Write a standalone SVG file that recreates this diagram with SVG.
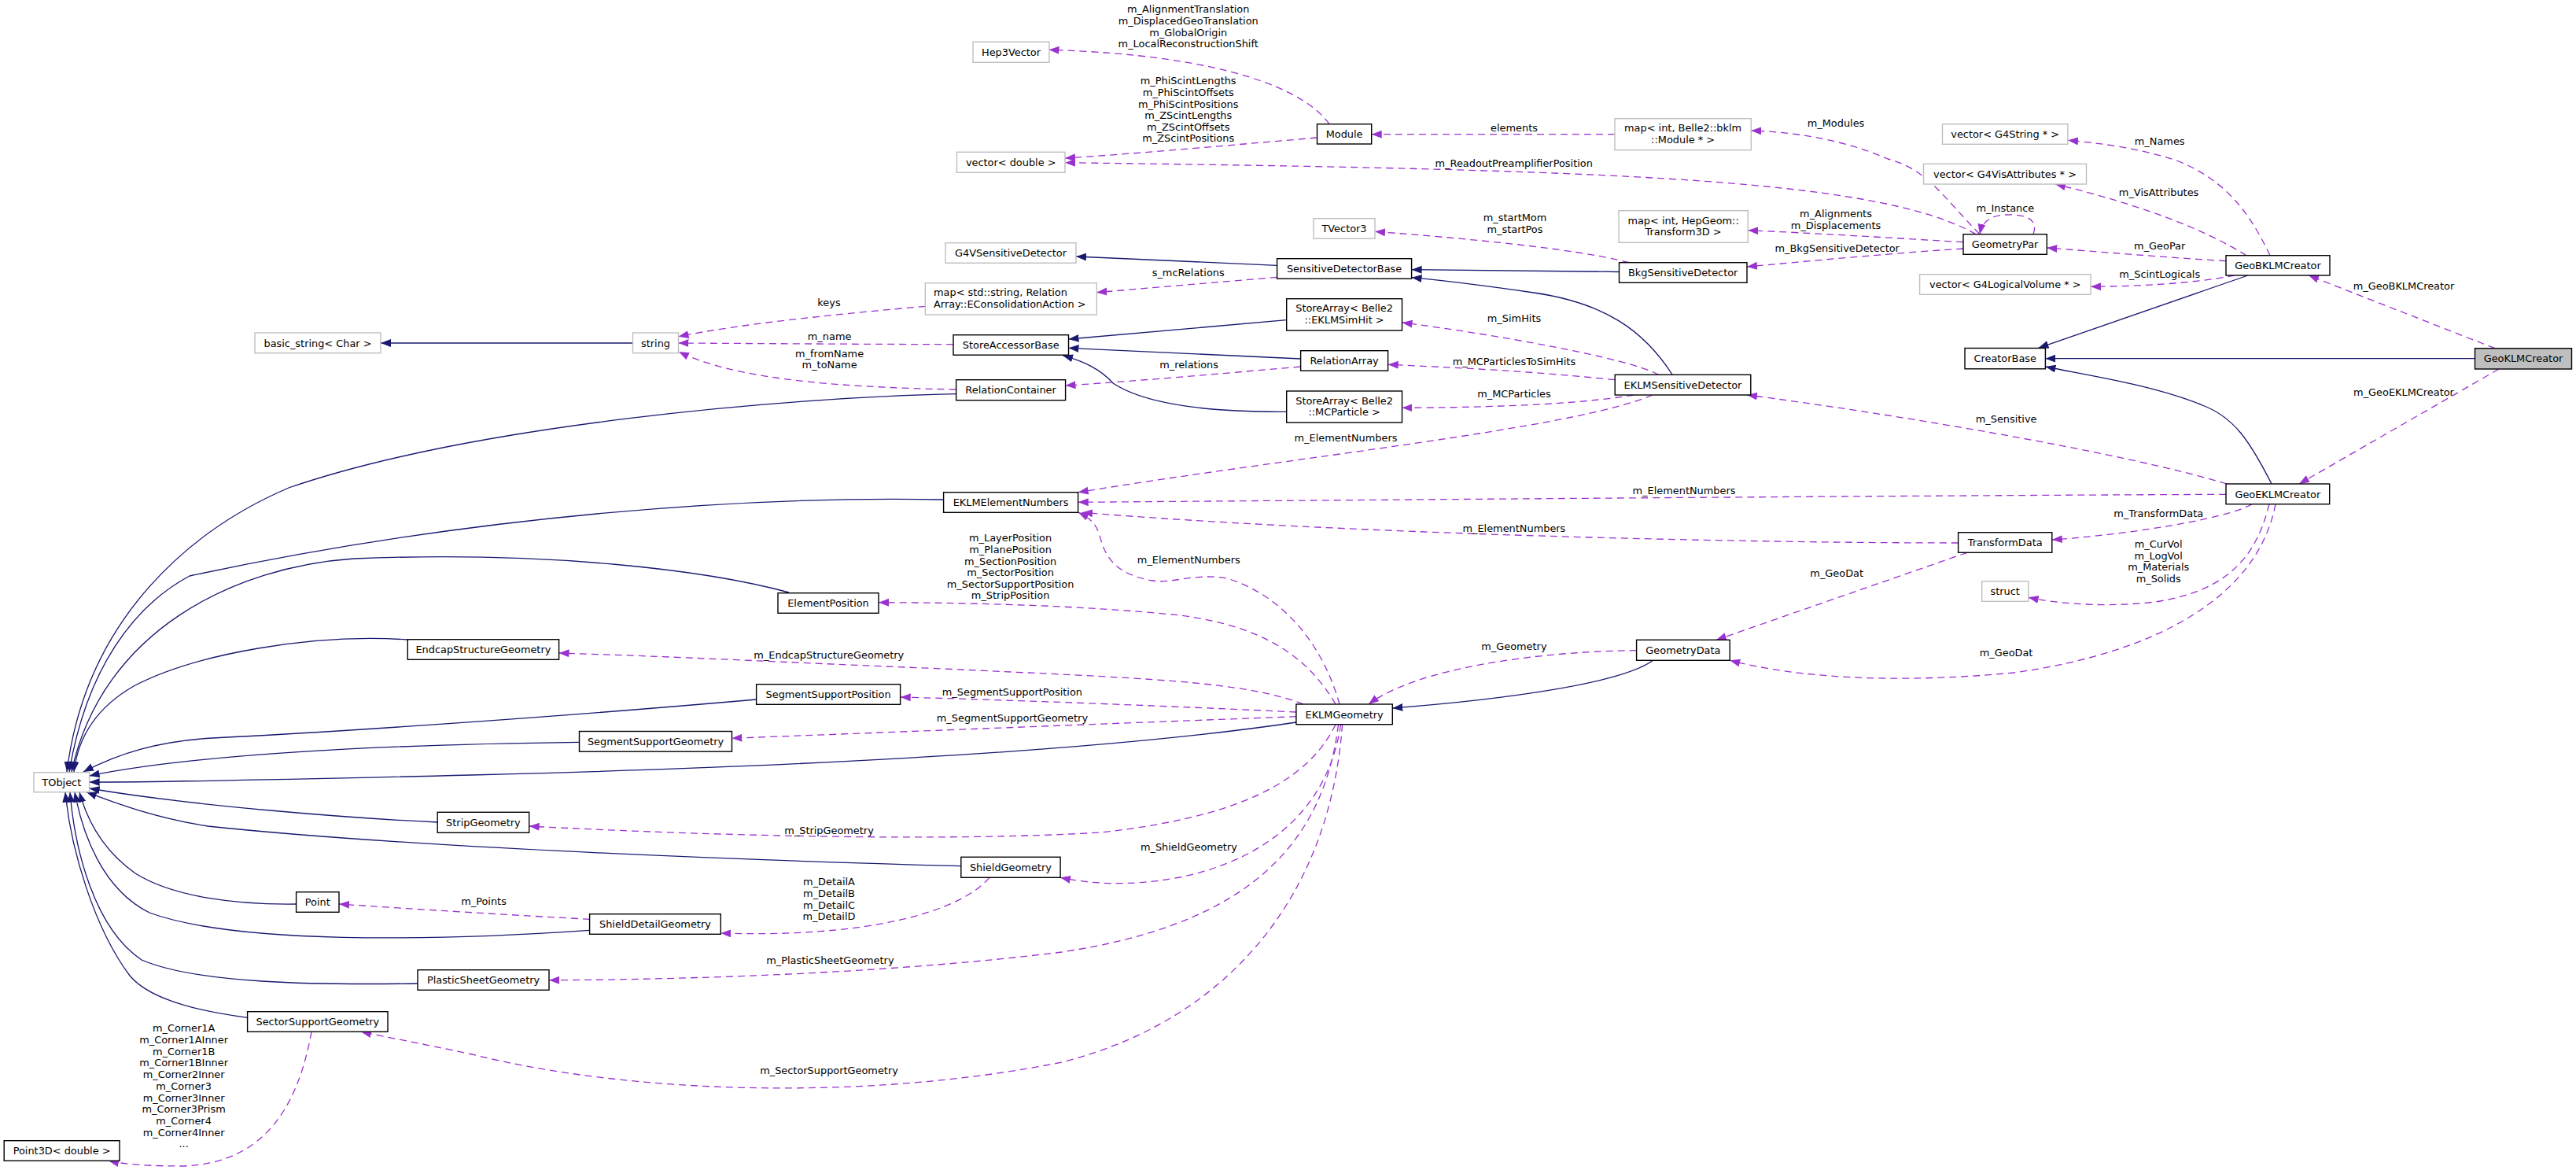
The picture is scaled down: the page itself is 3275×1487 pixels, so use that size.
<svg xmlns="http://www.w3.org/2000/svg" width="3275" height="1487" viewBox="0 0 3275 1487">
<defs>
<style>
text{font-family:"DejaVu Sans","Liberation Sans",sans-serif;font-size:12.9px;fill:#000}
.nd text,.ex text{text-anchor:middle}
.nd rect{fill:#fff;stroke:#000;stroke-width:1.4}
.ex rect{fill:#fff;stroke:#bfbfbf;stroke-width:1.4}
.cur rect{fill:#bfbfbf;stroke:#000;stroke-width:1.4}
.cur text{text-anchor:middle}
.inh{fill:none;stroke:#191970;stroke-width:1.3;marker-end:url(#ai)}
.use{fill:none;stroke:#9a32cd;stroke-width:1.3;stroke-dasharray:9,6;marker-end:url(#au)}
.lb{text-anchor:middle}
</style>
<marker id="ai" markerUnits="userSpaceOnUse" markerWidth="14" markerHeight="11" refX="13" refY="5" orient="auto"><path d="M0,0 L13,5 L0,10 z" fill="#191970"/></marker>
<marker id="au" markerUnits="userSpaceOnUse" markerWidth="14" markerHeight="11" refX="13" refY="5" orient="auto"><path d="M0,0 L13,5 L0,10 z" fill="#9a32cd"/></marker>
</defs>
<rect x="0" y="0" width="3275" height="1487" fill="#fff"/>
<g id="connectors">
<path class="inh" d="M804.5,436 L484,436"/>
<path class="inh" d="M1623.6,337.3 L1368,326"/>
<path class="inh" d="M2058.5,345.5 C1950,344 1850,343 1794.6,342.7"/>
<path class="inh" d="M2126,476 C2090,420 2040,385 1950,372 C1880,362 1830,356 1794.6,352.7"/>
<path class="inh" d="M1635.7,406.7 L1358.5,431"/>
<path class="inh" d="M1653.6,456 L1358.5,442.3"/>
<path class="inh" d="M1635.7,523.3 C1520,524 1450,510 1415,487 C1400,470 1380,460 1351,451.7"/>
<path class="inh" d="M1215.6,500.7 C1000,505 600,540 367,620 C250,670 110,780 85,981"/>
<path class="inh" d="M1199.6,635 C950,630 600,655 241,732 C170,770 110,850 88,981"/>
<path class="inh" d="M1003,753 C900,725 700,700 450,710 C300,720 130,800 91,981"/>
<path class="inh" d="M518.3,813 C400,805 250,830 170,872 C130,895 100,930 94,981"/>
<path class="inh" d="M961.6,889 C700,912 400,932 270,938 C200,942 150,958 106,981"/>
<path class="inh" d="M736.5,943.3 C500,946 250,958 113.6,986"/>
<path class="inh" d="M1648,918 C1400,955 1000,975 600,985 C400,990 200,994 113.6,994"/>
<path class="inh" d="M556.2,1045 C450,1040 250,1025 113.6,1002"/>
<path class="inh" d="M1221.8,1100.7 C900,1092 500,1075 264,1050 C200,1040 150,1022 110,1006.7"/>
<path class="inh" d="M376.6,1149 C300,1150 220,1140 172,1110 C130,1080 110,1040 101,1006.7"/>
<path class="inh" d="M749.6,1182.3 C550,1196 300,1200 190,1160 C130,1130 105,1060 95,1006.7"/>
<path class="inh" d="M531,1250 C400,1252 250,1250 180,1220 C120,1180 95,1080 89,1006.7"/>
<path class="inh" d="M314.6,1293.3 C250,1285 190,1270 165,1240 C120,1180 90,1080 83,1006.7"/>
<path class="inh" d="M2858,350 L2591.5,442.3"/>
<path class="inh" d="M3146.5,455.7 L2600.4,455.7"/>
<path class="inh" d="M2888,615 C2860,560 2840,530 2800,515 C2740,490 2660,478 2600.4,466"/>
<path class="inh" d="M2101.6,839.3 C2060,870 1900,890 1770.3,900"/>

<path class="use" d="M1690,157.7 C1660,115 1560,70 1333.5,63.3"/>
<path class="use" d="M1674.5,175 C1580,183 1450,195 1354,201"/>
<path class="use" d="M2512,297.7 C2450,262 2330,240 2118,227 S1600,210 1354,206.7"/>
<path class="use" d="M2053,170.7 L1743.7,170.7"/>
<path class="use" d="M2517,297.7 C2470,250 2450,215 2400,202 C2350,180 2290,168 2226.3,166"/>
<path class="use" d="M2071,333.7 C2000,315 1850,302 1748,294.3"/>
<path class="use" d="M2496,307.7 C2400,302 2300,296 2222.3,292.7"/>
<path class="use" d="M2496,316 C2400,322 2300,332 2221,339"/>
<path class="use" d="M2585,297.7 C2592,278 2575,272 2550,273 C2530,274 2520,282 2517,297.7"/>
<path class="use" d="M2830,331.7 C2750,327 2670,320 2602.3,315"/>
<path class="use" d="M2886,324.7 C2860,270 2830,230 2770,205 C2720,188 2670,182 2629,178.3"/>
<path class="use" d="M2856,324.7 C2800,290 2720,260 2613,234"/>
<path class="use" d="M2841,350 C2790,360 2720,364 2658,364.3"/>
<path class="use" d="M3172,442.7 L2935,350"/>
<path class="use" d="M3177,469 L2923,615"/>
<path class="use" d="M1623.6,352.3 L1394.2,371.7"/>
<path class="use" d="M1176.3,389.3 C1080,398 950,410 862.5,427.7"/>
<path class="use" d="M1212,437.7 C1100,437.5 950,436.5 862.5,436"/>
<path class="use" d="M1215.6,495 C1050,492 930,480 863,447"/>
<path class="use" d="M1653.6,466 C1550,475 1450,484 1354.5,490"/>
<path class="use" d="M2108.7,476.3 C2070,455 1900,425 1782.5,410"/>
<path class="use" d="M2053.2,482.7 C1950,472 1850,467 1764.7,463.3"/>
<path class="use" d="M2077,502 C2000,515 1880,518 1782.5,518.3"/>
<path class="use" d="M2101,502 C2000,545 1650,580 1370.7,625.7"/>
<path class="use" d="M2831,615 C2700,575 2400,525 2221,502"/>
<path class="use" d="M2830,628.3 C2400,630 1800,635 1370.7,638.3"/>
<path class="use" d="M2489.6,690 C2200,690 1700,678 1376,651.3"/>
<path class="use" d="M2863,640.7 C2830,660 2700,680 2608.8,686"/>
<path class="use" d="M2885,640.7 C2870,700 2840,750 2740,765 C2680,772 2620,768 2578.7,759.3"/>
<path class="use" d="M2501,702.3 L2182,813.3"/>
<path class="use" d="M2893,640.7 C2870,760 2740,830 2560,855 C2400,870 2280,860 2199.2,839.3"/>
<path class="use" d="M2080.6,826.7 C1950,828 1800,850 1740,895"/>
<path class="use" d="M1703,895 C1685,830 1640,760 1560,735 C1520,728 1490,742 1465,738 C1420,730 1405,710 1398,680 C1393,665 1385,658 1371,651.3"/>
<path class="use" d="M1698,895 C1660,830 1600,795 1500,782 C1380,770 1250,766 1117,765.7"/>
<path class="use" d="M1657,895 C1580,865 1450,862 1200,850 C1000,842 850,834 710.6,830"/>
<path class="use" d="M1648,905 C1500,898 1300,890 1144.7,886"/>
<path class="use" d="M1648,910.7 C1400,920 1150,930 930.4,938.3"/>
<path class="use" d="M1698,920.7 C1660,1000 1560,1040 1400,1058 C1200,1070 900,1062 672.7,1050"/>
<path class="use" d="M1704.6,920.7 C1690,1020 1620,1090 1500,1115 C1430,1128 1380,1122 1348,1115.3"/>
<path class="use" d="M1701.5,920.7 C1680,1100 1550,1180 1350,1210 C1150,1235 900,1245 698,1245.7"/>
<path class="use" d="M1706.6,920.7 C1690,1150 1550,1300 1350,1350 C1100,1400 800,1390 600,1340 C530,1325 490,1318 459,1311.3"/>
<path class="use" d="M1258,1115.3 C1220,1160 1100,1192 916.3,1186"/>
<path class="use" d="M749.6,1168.3 C650,1163 520,1155 431,1149"/>
<path class="use" d="M396,1311.3 C380,1400 340,1480 230,1482 C190,1482 160,1480 138,1475.3"/>

<g id="labels">
<text class="lb" x="1510.7" y="16.3">m_AlignmentTranslation</text>
<text class="lb" x="1510.7" y="30.9">m_DisplacedGeoTranslation</text>
<text class="lb" x="1510.7" y="45.5">m_GlobalOrigin</text>
<text class="lb" x="1510.7" y="60.1">m_LocalReconstructionShift</text>
<text class="lb" x="1510.7" y="107.3">m_PhiScintLengths</text>
<text class="lb" x="1510.7" y="121.9">m_PhiScintOffsets</text>
<text class="lb" x="1510.7" y="136.5">m_PhiScintPositions</text>
<text class="lb" x="1510.7" y="151.1">m_ZScintLengths</text>
<text class="lb" x="1510.7" y="165.7">m_ZScintOffsets</text>
<text class="lb" x="1510.7" y="180.3">m_ZScintPositions</text>
<text class="lb" x="1924.7" y="212.3">m_ReadoutPreamplifierPosition</text>
<text class="lb" x="1925" y="167.3">elements</text>
<text class="lb" x="2334" y="161.3">m_Modules</text>
<text class="lb" x="2745.7" y="183.6">m_Names</text>
<text class="lb" x="2744.6" y="249.3">m_VisAttributes</text>
<text class="lb" x="2549.4" y="269.3">m_Instance</text>
<text class="lb" x="1926" y="281.3">m_startMom</text>
<text class="lb" x="1926" y="295.9">m_startPos</text>
<text class="lb" x="2334" y="276.3">m_Alignments</text>
<text class="lb" x="2334" y="290.9">m_Displacements</text>
<text class="lb" x="2335.7" y="319.6">m_BkgSensitiveDetector</text>
<text class="lb" x="2745.7" y="317.3">m_GeoPar</text>
<text class="lb" x="2745.7" y="353.3">m_ScintLogicals</text>
<text class="lb" x="3056" y="368.3">m_GeoBKLMCreator</text>
<text class="lb" x="3056" y="503.3">m_GeoEKLMCreator</text>
<text class="lb" x="1510.7" y="351.3">s_mcRelations</text>
<text class="lb" x="1054" y="388.9">keys</text>
<text class="lb" x="1054.6" y="432.3">m_name</text>
<text class="lb" x="1054.6" y="453.6">m_fromName</text>
<text class="lb" x="1054.6" y="468.2">m_toName</text>
<text class="lb" x="1511.6" y="467.9">m_relations</text>
<text class="lb" x="1925" y="408.6">m_SimHits</text>
<text class="lb" x="1924.9" y="463.6">m_MCParticlesToSimHits</text>
<text class="lb" x="1924.9" y="505.3">m_MCParticles</text>
<text class="lb" x="1711" y="561.3">m_ElementNumbers</text>
<text class="lb" x="2550.6" y="537.3">m_Sensitive</text>
<text class="lb" x="2141" y="628.3">m_ElementNumbers</text>
<text class="lb" x="2744.2" y="657.3">m_TransformData</text>
<text class="lb" x="1924.9" y="676.3">m_ElementNumbers</text>
<text class="lb" x="2744.2" y="695.9">m_CurVol</text>
<text class="lb" x="2744.2" y="710.5">m_LogVol</text>
<text class="lb" x="2744.2" y="725.1">m_Materials</text>
<text class="lb" x="2744.2" y="739.7">m_Solids</text>
<text class="lb" x="2335.2" y="733.3">m_GeoDat</text>
<text class="lb" x="1924.9" y="825.6">m_Geometry</text>
<text class="lb" x="2550.6" y="833.6">m_GeoDat</text>
<text class="lb" x="1284.6" y="688.3">m_LayerPosition</text>
<text class="lb" x="1284.6" y="702.9">m_PlanePosition</text>
<text class="lb" x="1284.6" y="717.5">m_SectionPosition</text>
<text class="lb" x="1284.6" y="732.1">m_SectorPosition</text>
<text class="lb" x="1284.6" y="746.7">m_SectorSupportPosition</text>
<text class="lb" x="1284.6" y="761.3">m_StripPosition</text>
<text class="lb" x="1511.3" y="716.3">m_ElementNumbers</text>
<text class="lb" x="1053.8" y="837.3">m_EndcapStructureGeometry</text>
<text class="lb" x="1286.9" y="883.6">m_SegmentSupportPosition</text>
<text class="lb" x="1286.9" y="916.6">m_SegmentSupportGeometry</text>
<text class="lb" x="1054" y="1059.6">m_StripGeometry</text>
<text class="lb" x="1511.4" y="1081.3">m_ShieldGeometry</text>
<text class="lb" x="1054" y="1125.3">m_DetailA</text>
<text class="lb" x="1054" y="1139.9">m_DetailB</text>
<text class="lb" x="1054" y="1154.5">m_DetailC</text>
<text class="lb" x="1054" y="1169.1">m_DetailD</text>
<text class="lb" x="1055.4" y="1224.6">m_PlasticSheetGeometry</text>
<text class="lb" x="1054" y="1364.6">m_SectorSupportGeometry</text>
<text class="lb" x="615" y="1149.6">m_Points</text>
<text class="lb" x="233.6" y="1311.3">m_Corner1A</text>
<text class="lb" x="233.6" y="1326">m_Corner1AInner</text>
<text class="lb" x="233.6" y="1340.7">m_Corner1B</text>
<text class="lb" x="233.6" y="1355.4">m_Corner1BInner</text>
<text class="lb" x="233.6" y="1370.1">m_Corner2Inner</text>
<text class="lb" x="233.6" y="1384.8">m_Corner3</text>
<text class="lb" x="233.6" y="1399.5">m_Corner3Inner</text>
<text class="lb" x="233.6" y="1414.2">m_Corner3Prism</text>
<text class="lb" x="233.6" y="1428.9">m_Corner4</text>
<text class="lb" x="233.6" y="1443.6">m_Corner4Inner</text>
<text class="lb" x="233.6" y="1458.3">...</text>
</g>
</g>

<g id="n-Hep3Vector" class="ex"><rect x="1237" y="53.3" width="97" height="26"/><text x="1285.5" y="70.9">Hep3Vector</text></g>
<g id="n-vector-double" class="ex"><rect x="1216.5" y="193.3" width="137.5" height="26"/><text x="1285.2" y="210.9">vector&lt; double &gt;</text></g>
<g id="n-Module" class="nd"><rect x="1674.5" y="157.7" width="69.2" height="25.3"/><text x="1709.1" y="175">Module</text></g>
<g id="n-map-bklm" class="ex"><rect x="2053" y="150.7" width="173.3" height="40"/><text x="2139.6" y="167.3">map&lt; int, Belle2::bklm</text><text x="2139.6" y="181.9">::Module * &gt;</text></g>
<g id="n-TVector3" class="ex"><rect x="1670" y="277.7" width="78" height="25.6"/><text x="1709" y="295.1">TVector3</text></g>
<g id="n-G4VSensitiveDetector" class="ex"><rect x="1202" y="308.7" width="166" height="25.6"/><text x="1285" y="326.1">G4VSensitiveDetector</text></g>
<g id="n-SensitiveDetectorBase" class="nd"><rect x="1623.6" y="328.7" width="171" height="25.5"/><text x="1709.1" y="346">SensitiveDetectorBase</text></g>
<g id="n-map-string" class="ex"><rect x="1176.3" y="359.7" width="218" height="40.3"/><text x="1187" y="376.3" style="text-anchor:start">map&lt; std::string, Relation</text><text x="1187" y="391.3" style="text-anchor:start">Array::EConsolidationAction &gt;</text></g>
<g id="n-StoreArray-EKLMSimHit" class="nd"><rect x="1635.7" y="379.7" width="146.8" height="40.3"/><text x="1709.1" y="396.3">StoreArray&lt; Belle2</text><text x="1709.1" y="410.9">::EKLMSimHit &gt;</text></g>
<g id="n-StoreAccessorBase" class="nd"><rect x="1212" y="425.7" width="146.5" height="25.5"/><text x="1285.2" y="443">StoreAccessorBase</text></g>
<g id="n-RelationArray" class="nd"><rect x="1653.6" y="445.7" width="111" height="25.5"/><text x="1709.1" y="463">RelationArray</text></g>
<g id="n-RelationContainer" class="nd"><rect x="1215.6" y="482.7" width="139" height="26"/><text x="1285.1" y="500.3">RelationContainer</text></g>
<g id="n-StoreArray-MCParticle" class="nd"><rect x="1635.7" y="497" width="146.8" height="40"/><text x="1709.1" y="513.6">StoreArray&lt; Belle2</text><text x="1709.1" y="528.2">::MCParticle &gt;</text></g>
<g id="n-map-HepGeom" class="ex"><rect x="2058" y="267.7" width="164.3" height="40.6"/><text x="2140.1" y="284.5">map&lt; int, HepGeom::</text><text x="2140.1" y="299.1">Transform3D &gt;</text></g>
<g id="n-BkgSensitiveDetector" class="nd"><rect x="2058.5" y="333.7" width="162.5" height="25.6"/><text x="2139.7" y="351.1">BkgSensitiveDetector</text></g>
<g id="n-GeometryPar" class="nd"><rect x="2496" y="297.7" width="106.3" height="25.6"/><text x="2549.1" y="315.1">GeometryPar</text></g>
<g id="n-vector-G4String" class="ex"><rect x="2469.5" y="157.7" width="159.4" height="25.6"/><text x="2549.2" y="175.1">vector&lt; G4String * &gt;</text></g>
<g id="n-vector-G4VisAttributes" class="ex"><rect x="2445.5" y="208.3" width="207" height="25.7"/><text x="2549" y="225.8">vector&lt; G4VisAttributes * &gt;</text></g>
<g id="n-vector-G4LogicalVolume" class="ex"><rect x="2440.6" y="348.7" width="217.4" height="25.6"/><text x="2549.3" y="366.1">vector&lt; G4LogicalVolume * &gt;</text></g>
<g id="n-GeoBKLMCreator" class="nd"><rect x="2830" y="324.7" width="132" height="25.3"/><text x="2896" y="342">GeoBKLMCreator</text></g>
<g id="n-CreatorBase" class="nd"><rect x="2498" y="442.5" width="102.4" height="26.3"/><text x="2549.2" y="460.2">CreatorBase</text></g>
<g id="n-GeoKLMCreator" class="cur"><rect x="3146.5" y="442.7" width="123" height="26.3"/><text x="3208" y="460.4">GeoKLMCreator</text></g>
<g id="n-GeoEKLMCreator" class="nd"><rect x="2830" y="615" width="131.7" height="25.7"/><text x="2895.8" y="632.5">GeoEKLMCreator</text></g>
<g id="n-EKLMSensitiveDetector" class="nd"><rect x="2053.2" y="476.3" width="172.6" height="25.7"/><text x="2139.5" y="493.8">EKLMSensitiveDetector</text></g>
<g id="n-TransformData" class="nd"><rect x="2489.6" y="676.7" width="119.2" height="25.6"/><text x="2549.2" y="694.1">TransformData</text></g>
<g id="n-struct" class="ex"><rect x="2519.7" y="738.7" width="59" height="25.6"/><text x="2549.2" y="756.1">struct</text></g>
<g id="n-GeometryData" class="nd"><rect x="2080.6" y="813.3" width="118.6" height="26"/><text x="2139.9" y="830.9">GeometryData</text></g>
<g id="n-basic_string" class="ex"><rect x="324" y="423" width="160" height="25.7"/><text x="404" y="440.5">basic_string&lt; Char &gt;</text></g>
<g id="n-string" class="ex"><rect x="804.5" y="423" width="58" height="25.7"/><text x="833.5" y="440.5">string</text></g>
<g id="n-TObject" class="ex"><rect x="43" y="981.7" width="70.6" height="25"/><text x="78.3" y="998.8">TObject</text></g>
<g id="n-EKLMElementNumbers" class="nd"><rect x="1199.6" y="625.7" width="171" height="25.6"/><text x="1285.1" y="643.1">EKLMElementNumbers</text></g>
<g id="n-ElementPosition" class="nd"><rect x="989" y="753.7" width="128" height="25.6"/><text x="1053" y="771.1">ElementPosition</text></g>
<g id="n-EndcapStructureGeometry" class="nd"><rect x="518.3" y="812.7" width="192.3" height="25.6"/><text x="614.4" y="830.1">EndcapStructureGeometry</text></g>
<g id="n-SegmentSupportPosition" class="nd"><rect x="961.6" y="869.7" width="183" height="25.6"/><text x="1053.1" y="887.1">SegmentSupportPosition</text></g>
<g id="n-SegmentSupportGeometry" class="nd"><rect x="736.5" y="929.5" width="194" height="25.7"/><text x="833.5" y="947">SegmentSupportGeometry</text></g>
<g id="n-EKLMGeometry" class="nd"><rect x="1647.9" y="895" width="122.4" height="25.7"/><text x="1709.1" y="912.5">EKLMGeometry</text></g>
<g id="n-StripGeometry" class="nd"><rect x="556.2" y="1032.3" width="116.5" height="26"/><text x="614.4" y="1049.9">StripGeometry</text></g>
<g id="n-ShieldGeometry" class="nd"><rect x="1221.8" y="1089.3" width="126.3" height="26"/><text x="1284.9" y="1106.9">ShieldGeometry</text></g>
<g id="n-Point" class="nd"><rect x="376.6" y="1133.7" width="54.4" height="25.6"/><text x="403.8" y="1151.1">Point</text></g>
<g id="n-ShieldDetailGeometry" class="nd"><rect x="749.6" y="1161.7" width="166.7" height="25.6"/><text x="832.9" y="1179.1">ShieldDetailGeometry</text></g>
<g id="n-PlasticSheetGeometry" class="nd"><rect x="531" y="1232.7" width="167" height="25.6"/><text x="614.5" y="1250.1">PlasticSheetGeometry</text></g>
<g id="n-SectorSupportGeometry" class="nd"><rect x="314.6" y="1285.7" width="178.4" height="25.6"/><text x="403.8" y="1303.1">SectorSupportGeometry</text></g>
<g id="n-Point3D-double" class="nd"><rect x="5.2" y="1449.7" width="146.8" height="25.6"/><text x="78.6" y="1467.1">Point3D&lt; double &gt;</text></g>
</svg>
